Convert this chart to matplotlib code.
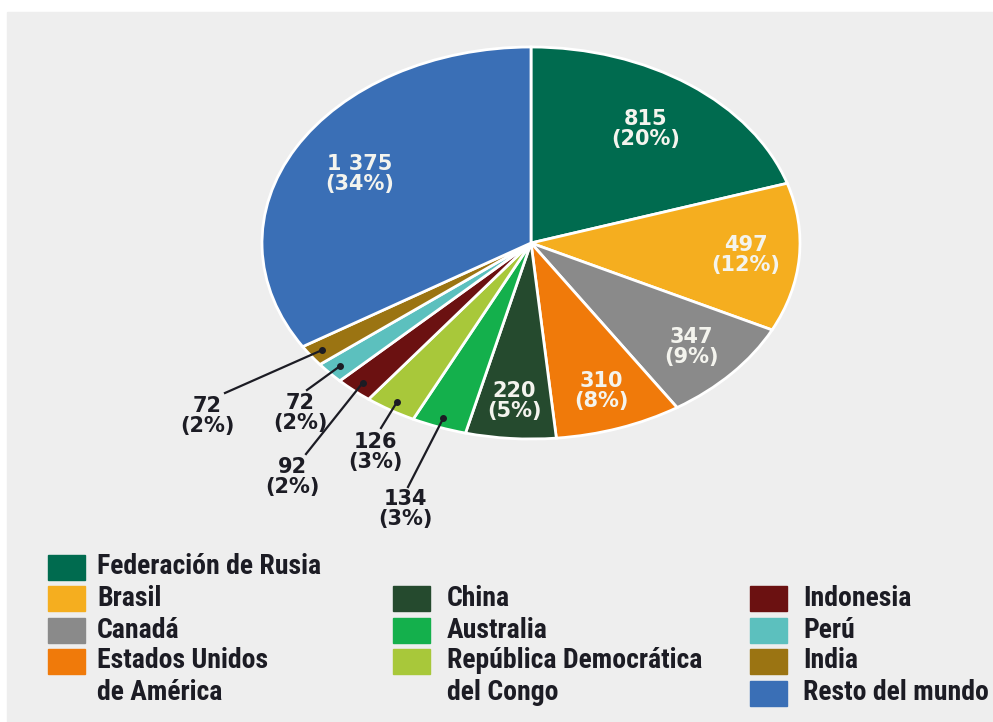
import matplotlib.pyplot as plt
from matplotlib.patches import Rectangle
from matplotlib import font_manager
import numpy as np

countries = ["Federación de Rusia", "Brasil", "Canadá", "Estados Unidos\nde América",
             "China", "Australia", "República Democrática\ndel Congo", "Indonesia",
             "Perú", "India", "Resto del mundo"]
values = [815, 497, 347, 310, 220, 134, 126, 92, 72, 72, 1375]
colors = ["#006b4f", "#f5ae1f", "#8a8a8a", "#f07a0a", "#254a2e", "#14b04c",
          "#a8c83a", "#6b1111", "#5cc0be", "#9b7412", "#3a6fb6"]

W, H = 993, 722
cx, cy, rx, ry = 531, 243, 269, 196  # pie centre / radii in pixels

def to_data(x, y):
    return (x - cx) / rx, (cy - y) / ry

def fmt(v):
    return f"{v:,}".replace(",", " ")

# pick a narrow font for the legend if one is installed
installed = {(f.name, f.stretch) for f in font_manager.fontManager.ttflist}
names = {n for n, s in installed}
leg_font = dict(family=["DejaVu Sans"], fontweight="bold")
for cand in ["Roboto Condensed", "Liberation Sans Narrow", "Open Sans Condensed"]:
    if cand in names:
        leg_font = dict(family=[cand, "DejaVu Sans"], fontweight="bold")
        break
else:
    if ("DejaVu Sans", "condensed") in installed:
        leg_font = dict(family=["DejaVu Sans"], fontweight="bold", fontstretch="condensed")
    elif "Roboto" in names:
        leg_font = dict(family=["Roboto", "DejaVu Sans"], fontweight="bold")

fig = plt.figure(figsize=(W / 100, H / 100), dpi=100)
fig.patch.set_facecolor("white")
fig.add_artist(Rectangle((7 / W, 0), 1, 1 - 12 / H, transform=fig.transFigure,
                         color="#eeeeee", zorder=-10))

ax = fig.add_axes([(cx - rx) / W, 1 - (cy + ry) / H, 2 * rx / W, 2 * ry / H])
wedges, _ = ax.pie(values, colors=colors, startangle=90, counterclock=False,
                   wedgeprops=dict(edgecolor="white", linewidth=2))
ax.set_aspect("auto")
ax.set_xlim(-1, 1)
ax.set_ylim(-1, 1)
ax.axis("off")

total = sum(values)
num_font = dict(family=["DejaVu Sans"], fontweight="bold", fontsize=15)

# labels inside the slices
inner_r = {0: 0.72, 1: 0.80, 2: 0.80, 3: 0.80, 4: 0.81, 10: 0.73}
for i, r in inner_r.items():
    w = wedges[i]
    a = np.deg2rad((w.theta1 + w.theta2) / 2)
    ax.text(r * np.cos(a), r * np.sin(a),
            f"{fmt(values[i])}\n({round(100 * values[i] / total)}%)",
            ha="center", va="center", color="#f4f4ee", linespacing=1.0, **num_font)

# labels outside with leader lines (pixel layout: text centre, line end)
outer = {5: ((405, 509), (408, 487)),
         6: ((375, 452), (381, 428)),
         7: ((292, 477), (306, 454)),
         8: ((300, 413), (307, 390)),
         9: ((207, 416), (225, 393))}
for i, (tpos, lend) in outer.items():
    w = wedges[i]
    a = np.deg2rad((w.theta1 + w.theta2) / 2)
    x0, y0 = 0.95 * np.cos(a), 0.95 * np.sin(a)
    x1, y1 = to_data(*lend)
    ax.plot([x0, x1], [y0, y1], color="#1c1c24", lw=1.6, clip_on=False)
    ax.plot([x0], [y0], "o", color="#1c1c24", ms=4, clip_on=False)
    tx, ty = to_data(*tpos)
    ax.text(tx, ty, f"{fmt(values[i])}\n({round(100 * values[i] / total)}%)",
            ha="center", va="center", color="#1c1c24", linespacing=1.0,
            clip_on=False, **num_font)

# legend font size: fit the first entry to its width in the reference (~228 px)
renderer = fig.canvas.get_renderer()
probe = fig.text(0, 0, countries[0], fontsize=18, **leg_font)
wpx = probe.get_window_extent(renderer).width
probe.remove()
leg_size = min(20, 18 * 228 / wpx)

# legend, laid out by hand
box_x = [48, 393, 750]
text_x = [97, 447, 803]
row_y = [567, 598, 630, 661, 693]
slots = [(0, 0), (0, 1), (0, 2), (0, 3), (1, 1), (1, 2), (1, 3),
         (2, 1), (2, 2), (2, 3), (2, 4)]
for name, col, (c, r) in zip(countries, colors, slots):
    y = row_y[r]
    fig.add_artist(Rectangle((box_x[c] / W, 1 - (y + 12.5) / H), 37 / W, 25 / H,
                             transform=fig.transFigure, color=col))
    for k, line in enumerate(name.split("\n")):
        fig.text(text_x[c] / W, 1 - row_y[r + k] / H, line, ha="left", va="center",
                 fontsize=leg_size, color="#1c1c24", **leg_font)

fig.savefig("out.png", dpi=100, facecolor=fig.get_facecolor())
